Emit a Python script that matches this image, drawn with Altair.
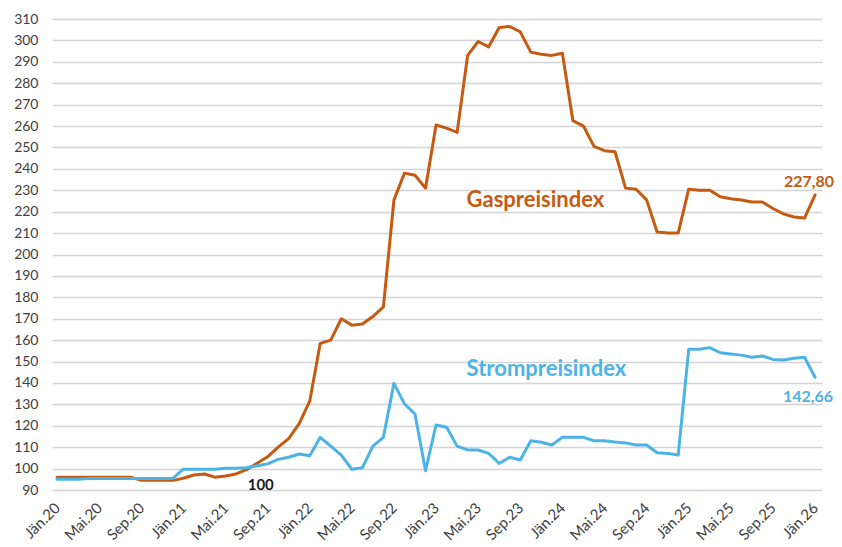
import altair as alt
import pandas as pd

# ---- data ----
month_names = ["Jän", "Feb", "Mär", "Apr", "Mai", "Jun", "Jul", "Aug", "Sep", "Okt", "Nov", "Dez"]
months = [f"{month_names[k % 12]}.{20 + k // 12}" for k in range(73)]

gas = [96.0, 96.0, 96.0, 96.0, 96.0, 96.0, 96.0, 96.0,
       94.5, 94.5, 94.5, 94.5,
       95.5, 97.0, 97.5, 96.0, 96.5, 97.5, 99.5, 102.5, 105.5, 110.0, 114.0, 121.0,
       131.5, 158.5, 160.0, 170.0, 167.0, 167.5, 171.0, 175.5, 225.5, 238.0, 237.0, 231.0,
       260.5, 259.0, 257.0, 293.0, 299.5, 297.0, 306.0, 306.5, 304.0, 294.5, 293.5, 293.0,
       294.0, 262.5, 260.0, 250.5, 248.5, 248.0, 231.0, 230.5, 225.5, 210.5, 210.0, 210.0,
       230.5, 230.0, 230.0, 227.0, 226.0, 225.5, 224.5, 224.5, 221.5, 219.0, 217.5, 217.0,
       227.80]

strom = [95.0, 95.0, 95.0, 95.4, 95.4, 95.4, 95.4, 95.4,
         95.4, 95.4, 95.4, 95.4,
         99.7, 99.7, 99.7, 99.7, 100.2, 100.2, 100.4, 101.3, 102.2, 104.3, 105.3, 106.8,
         106.0, 114.6, 110.5, 106.3, 99.7, 100.4, 110.5, 114.6, 139.8, 130.2, 125.5, 99.0,
         120.4, 119.3, 110.5, 108.7, 108.7, 107.1, 102.4, 105.3, 104.0, 113.0, 112.3, 111.0,
         114.6, 114.6, 114.6, 113.0, 113.0, 112.4, 112.0, 111.0, 111.0, 107.4, 107.1, 106.3,
         155.7, 155.7, 156.5, 154.1, 153.5, 153.0, 152.0, 152.6, 151.0, 150.7, 151.5, 152.0,
         142.66]

series_names = ["Gaspreisindex", "Strompreisindex"]
series_colors = ["#C55A11", "#4BB3E5"]

tick_values = list(range(0, 73, 4))
tick_labels = [months[v] for v in tick_values]
y_ticks = list(range(90, 311, 10))

# series name annotations (position in month index / value)
ann_text = ["Gaspreisindex", "Strompreisindex"]
ann_x = [38.9, 38.9]
ann_y = [225.5, 146.5]

# ---- frames ----
df = pd.DataFrame({"i": list(range(73)), "Monat": months,
                   "Gaspreisindex": gas, "Strompreisindex": strom})
long = df.melt(id_vars=["i", "Monat"], var_name="Serie", value_name="Wert")

ann = pd.DataFrame({"Serie": ann_text, "i": ann_x, "Wert": ann_y})

last = pd.DataFrame({
    "Serie": series_names,
    "i": [72, 72],
    "Wert": [gas[-1], strom[-1]],
    "txt": [f"{gas[-1]:.2f}".replace(".", ","), f"{strom[-1]:.2f}".replace(".", ",")],
})

base_label = pd.DataFrame({"i": [19.35], "Wert": [92.3], "txt": ["100"]})

label_js = "[" + ",".join(f"'{l}'" for l in tick_labels) + "][datum.value/4]"

xscale = alt.Scale(domain=[-0.48, 72.66], nice=False, zero=False)
yscale = alt.Scale(domain=[90, 310], nice=False, zero=False)
cscale = alt.Scale(domain=series_names, range=series_colors)

x_axis = alt.Axis(values=tick_values, labelExpr=label_js, title=None,
                  labelAngle=-45, labelAlign="right", labelBaseline="middle",
                  grid=False, domain=False, ticks=False, labelPadding=15,
                  labelOverlap=False,
                  labelFont="Lato", labelFontSize=15, labelColor="#404040")
y_axis = alt.Axis(values=y_ticks, title=None, labelOverlap=False,
                  grid=True, gridColor="#d4d4d4", gridWidth=1.3,
                  domain=False, ticks=False, labelPadding=14,
                  labelFont="Lato", labelFontSize=14, labelColor="#404040")


def xe():
    return alt.X("i:Q", scale=xscale, axis=x_axis)


def ye():
    return alt.Y("Wert:Q", scale=yscale, axis=y_axis)


lines = alt.Chart(long).mark_line(strokeWidth=3, strokeJoin="round", strokeCap="round").encode(
    x=xe(), y=ye(),
    color=alt.Color("Serie:N", scale=cscale, legend=None),
)

names = alt.Chart(ann).mark_text(align="left", baseline="middle", font="Lato",
                                 fontSize=22, fontWeight="bold").encode(
    x=xe(), y=ye(), text="Serie:N",
    color=alt.Color("Serie:N", scale=cscale, legend=None),
)

gas_end = alt.Chart(last[last.Serie == "Gaspreisindex"]).mark_text(
    align="center", baseline="middle", font="Lato", fontSize=16, fontWeight="bold", dy=-13, dx=-6
).encode(x=xe(), y=ye(), text="txt:N",
         color=alt.Color("Serie:N", scale=cscale, legend=None))

strom_end = alt.Chart(last[last.Serie == "Strompreisindex"]).mark_text(
    align="center", baseline="middle", font="Lato", fontSize=16, fontWeight="bold", dy=20, dx=-7
).encode(x=xe(), y=ye(), text="txt:N",
         color=alt.Color("Serie:N", scale=cscale, legend=None))

hundred = alt.Chart(base_label).mark_text(
    align="center", baseline="middle", font="Lato", fontSize=15, fontWeight="bold", color="#1a1a1a"
).encode(x=xe(), y=ye(), text="txt:N")

chart = alt.layer(lines, names, gas_end, strom_end, hundred).properties(
    width=770, height=471,
    background="white",
    autosize=alt.AutoSizeParams(type="none"),
    padding={"left": 44, "top": 11, "right": 12, "bottom": 56},
).configure_view(stroke=None)

chart.save("out.html", embed_options={"renderer": "svg", "actions": False})
